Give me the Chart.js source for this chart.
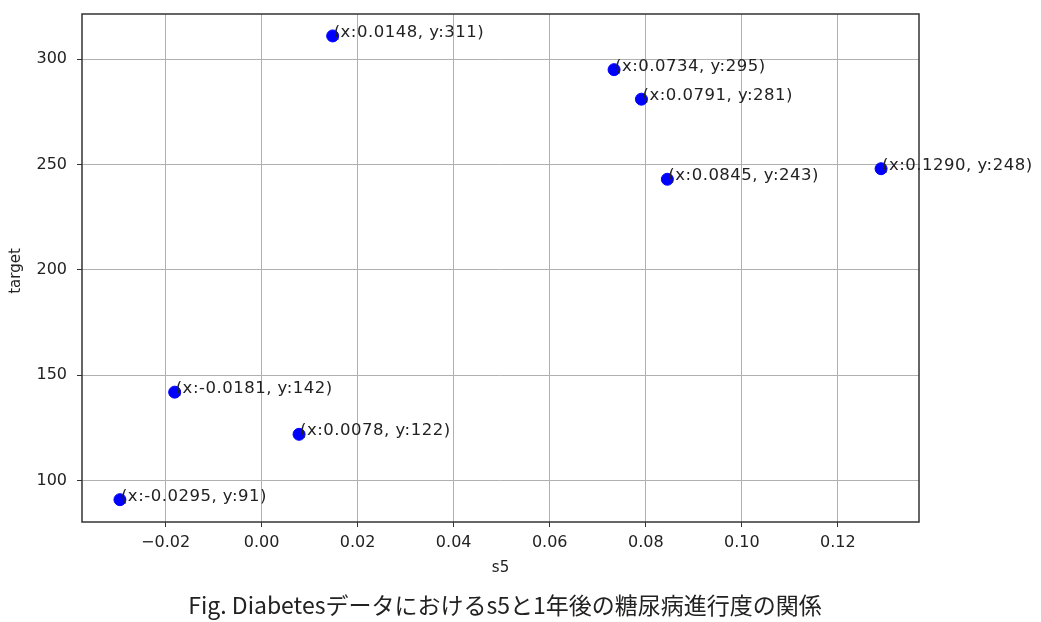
<!DOCTYPE html>
<html>
<head>
<meta charset="utf-8">
<script src="https://cdn.jsdelivr.net/npm/chart.js@4"></script>
<style>
  html, body { margin: 0; padding: 0; background: #fff; }
  #wrap { width: 1041px; height: 622px; position: relative; }
</style>
</head>
<body>
<div id="wrap"><canvas id="chart"></canvas></div>
<script>
// Data
const s5Values = [0.0148, 0.0734, 0.0791, 0.1290, 0.0845, -0.0181, 0.0078, -0.0295];
const targetValues = [311, 295, 281, 248, 243, 142, 122, 91];
const xTicks = [-0.02, 0.00, 0.02, 0.04, 0.06, 0.08, 0.10, 0.12];
const xTickLabels = ['\u22120.02', '0.00', '0.02', '0.04', '0.06', '0.08', '0.10', '0.12'];
const yTicks = [100, 150, 200, 250, 300];
const xTitle = 's5';
const yTitle = 'target';
const caption = 'Fig. Diabetesデータにおけるs5と1年後の糖尿病進行度の関係';

const LATIN = '"DejaVu Sans", sans-serif';
const CJK = '"Noto Sans CJK JP", sans-serif';

// Point labels, frame, axis titles and caption
const decorPlugin = {
    id: 'decor',
    afterDatasetsDraw(chart) {
        const ctx = chart.ctx;
        const xs = chart.scales.x, ys = chart.scales.y;
        ctx.save();
        ctx.fillStyle = '#222';
        ctx.font = '16.5px ' + LATIN;
        ctx.letterSpacing = '0.5px';
        ctx.textAlign = 'left';
        ctx.textBaseline = 'alphabetic';
        s5Values.forEach((v, i) => {
            const label = '(x:' + v.toFixed(4) + ', y:' + targetValues[i] + ')';
            ctx.fillText(label, xs.getPixelForValue(v) + 1, ys.getPixelForValue(targetValues[i]) + 1);
        });
        ctx.restore();
    },
    afterDraw(chart) {
        const ctx = chart.ctx;
        const a = chart.chartArea;
        ctx.save();
        ctx.strokeStyle = '#333';
        ctx.lineWidth = 1.5;
        ctx.strokeRect(a.left, a.top, a.right - a.left, a.bottom - a.top);

        ctx.fillStyle = '#222';
        ctx.font = '15px ' + LATIN;
        ctx.textAlign = 'center';
        ctx.textBaseline = 'middle';
        ctx.fillText(xTitle, (a.left + a.right) / 2, 568);

        ctx.save();
        ctx.translate(16, 271);
        ctx.rotate(-Math.PI / 2);
        ctx.fillText(yTitle, 0, 0);
        ctx.restore();

        ctx.font = '23px ' + CJK;
        ctx.fillText(caption, 505, 605);
        ctx.restore();
    }
};

new Chart(document.getElementById('chart'), {
    type: 'scatter',
    data: {
        datasets: [{
            label: 'target',
            data: s5Values.map((v, i) => ({ x: v, y: targetValues[i] })),
            backgroundColor: '#0000ff',
            borderColor: '#0000ff',
            pointRadius: 6,
            pointHoverRadius: 6
        }]
    },
    options: {
        responsive: true,
        maintainAspectRatio: false,
        animation: false,
        layout: { padding: { left: 0, top: 14, right: 122, bottom: 0 } },
        plugins: {
            legend: { display: false },
            tooltip: { enabled: false }
        },
        scales: {
            x: {
                type: 'linear',
                min: -0.0374,
                max: 0.1369,
                afterFit(scale) {
                    scale.height = 100;
                    scale.paddingLeft = 0;
                    scale.paddingRight = 0;
                },
                afterBuildTicks(scale) { scale.ticks = xTicks.map(v => ({ value: v })); },
                border: { display: false },
                grid: { color: '#b0b0b0', lineWidth: 1, tickColor: '#333', tickLength: 5 },
                ticks: {
                    color: '#222',
                    font: { family: LATIN, size: 16 },
                    padding: 6,
                    maxRotation: 0,
                    callback: function(value, index) { return xTickLabels[index]; }
                }
            },
            y: {
                type: 'linear',
                min: 80.4,
                max: 321.4,
                afterFit(scale) {
                    scale.width = 82;
                    scale.paddingTop = 0;
                    scale.paddingBottom = 0;
                },
                afterBuildTicks(scale) { scale.ticks = yTicks.map(v => ({ value: v })); },
                border: { display: false },
                grid: { color: '#b0b0b0', lineWidth: 1, tickColor: '#333', tickLength: 5 },
                ticks: {
                    color: '#222',
                    font: { family: LATIN, size: 16 },
                    padding: 10,
                    callback: function(value) { return String(value); }
                }
            }
        }
    },
    plugins: [decorPlugin]
});
</script>
</body>
</html>
